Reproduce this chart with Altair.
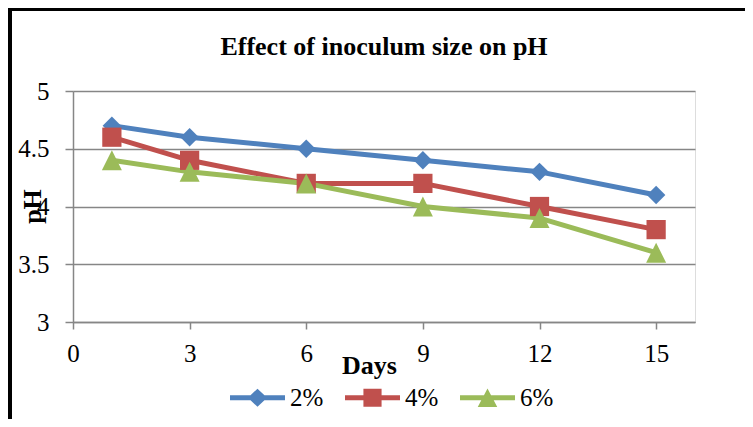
import altair as alt
import pandas as pd

days = [1, 3, 6, 9, 12, 15]
series_names = ["2%", "4%", "6%"]
ph_2 = [4.7, 4.6, 4.5, 4.4, 4.3, 4.1]
ph_4 = [4.6, 4.4, 4.2, 4.2, 4.0, 3.8]
ph_6 = [4.4, 4.3, 4.2, 4.0, 3.9, 3.6]
colors = ["#4F81BD", "#C0504D", "#9BBB59"]
x_ticks = [0, 3, 6, 9, 12, 15]
y_ticks = [3, 3.5, 4, 4.5, 5]

rows = []
for name, vals in zip(series_names, [ph_2, ph_4, ph_6]):
    for d, v in zip(days, vals):
        rows.append({"day": d, "ph": v, "series": name})
df = pd.DataFrame(rows)

FONT = "Liberation Serif"
GRAY = "#868686"

x_enc = alt.X(
    "day:Q",
    scale=alt.Scale(domain=[0, 16], nice=False, zero=False),
    axis=alt.Axis(
        values=x_ticks, title="Days", grid=False,
        domainColor=GRAY, domainWidth=1.5, tickColor=GRAY, tickWidth=1.5, tickSize=7,
        labelFont=FONT, labelFontSize=25, labelColor="black", labelBaseline="alphabetic",
        labelPadding=32, labelFlush=False, labelOverlap=False,
        titleFont=FONT, titleFontSize=26, titleFontWeight="bold", titleColor="black",
        titleX=296, titleY=51, titleBaseline="alphabetic", titleAlign="center",
    ),
)
y_enc = alt.Y(
    "ph:Q",
    scale=alt.Scale(domain=[3, 5], nice=False, zero=False),
    axis=alt.Axis(
        values=y_ticks, format="~g", title="pH", grid=True,
        gridColor=GRAY, gridWidth=1.5,
        domainColor=GRAY, domainWidth=1.5, tickColor=GRAY, tickWidth=1.5, tickSize=8,
        labelFont=FONT, labelFontSize=25, labelColor="black", labelPadding=16,
        labelFlush=False, labelOverlap=False,
        titleFont=FONT, titleFontSize=26, titleFontWeight="bold", titleColor="black",
        titleAngle=270, titleX=-33, titleY=115, titleBaseline="alphabetic", titleAlign="center",
    ),
)

color_scale = alt.Scale(domain=series_names, range=colors)

lines = alt.Chart(df).mark_line(strokeWidth=5, strokeJoin="round", strokeCap="round").encode(
    x=x_enc, y=y_enc,
    color=alt.Color("series:N", scale=color_scale, legend=None),
)

points = alt.Chart(df).mark_point(filled=True, opacity=1, strokeWidth=0).encode(
    x=x_enc, y=y_enc,
    color=alt.Color("series:N", scale=color_scale, legend=None),
    shape=alt.Shape("series:N", scale=alt.Scale(domain=series_names,
                    range=["diamond", "square", "M0,-1L1,1L-1,1Z"]), legend=None),
    size=alt.Size("series:O", scale=alt.Scale(domain=series_names, range=[340, 400, 420]), legend=None),
)

legend_paths = [
    "M-1,-0.091H1V0.091H-1Z M0,-0.33L0.35,0L0,0.33L-0.35,0Z",
    "M-1,-0.091H1V0.091H-1Z M-0.33,-0.33H0.33V0.33H-0.33Z",
    "M-1,-0.091H1V0.091H-1Z M0,-0.34L0.355,0.34L-0.355,0.34Z",
]

leg = alt.Legend(
    orient="none", legendX=157, legendY=279, direction="horizontal", columns=3,
    title=None, symbolSize=3025, symbolStrokeWidth=0, symbolOpacity=1,
    labelFont=FONT, labelFontSize=25, labelColor="black", labelOffset=5,
    columnPadding=21,
)

legend_layer = alt.Chart(df).transform_filter("datum.ph < 0").mark_point(
    filled=True, opacity=1
).encode(
    x=x_enc, y=y_enc,
    color=alt.Color("series:N", scale=color_scale, legend=leg),
    shape=alt.Shape("series:N", scale=alt.Scale(domain=series_names, range=legend_paths), legend=leg),
)

one = alt.Data(values=[{}])
left_bar = alt.Chart(one).mark_rule(color="black", strokeWidth=4).encode(
    x=alt.value(-63), y=alt.value(-83), y2=alt.value(328)
)
top_bar = alt.Chart(one).mark_rule(color="black", strokeWidth=3).encode(
    y=alt.value(-81.5), x=alt.value(-65), x2=alt.value(672)
)

chart = alt.layer(lines, points, legend_layer, left_bar, top_bar).resolve_scale(
    color="independent", shape="independent", size="independent"
).properties(
    width=622, height=231,
    padding={"left": 65, "top": 83, "right": 50, "bottom": 97},
    autosize=alt.AutoSizeParams(type="none"),
    title=alt.TitleParams(
        "Effect of inoculum size on pH", font=FONT, fontSize=26, fontWeight="bold",
        color="black", anchor="middle", baseline="alphabetic", offset=0, dy=75,
    ),
).configure_view(stroke=None).configure(background="white")

chart.save("out.html", embed_options={"renderer": "svg", "actions": False})
